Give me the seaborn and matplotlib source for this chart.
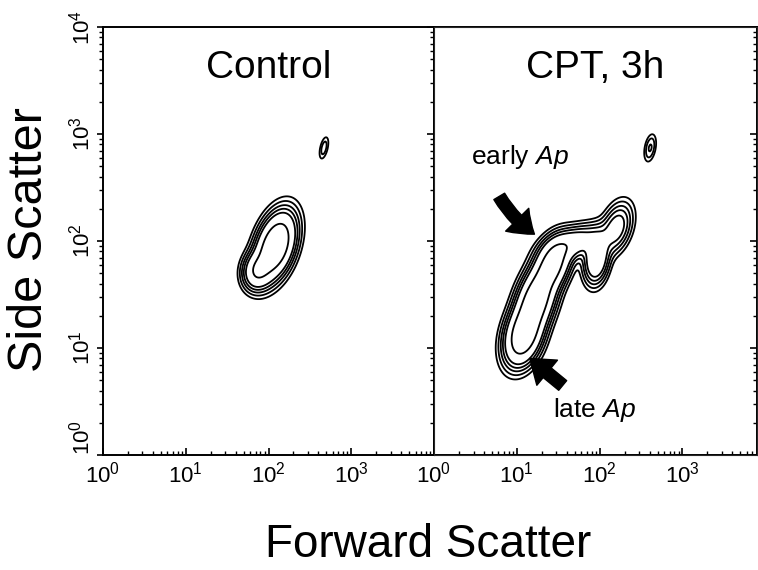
import numpy as np
import matplotlib
matplotlib.use("Agg")
import matplotlib.pyplot as plt
import seaborn as sns

# Gaussian populations in log10 (forward, side) scatter space
# Control sample
ctrl_cx = [2.08, 1.86, 2.67]
ctrl_cy = [1.95, 1.72, 2.87]
ctrl_smaj = [0.18, 0.10, 0.07]
ctrl_smin = [0.11, 0.09, 0.03]
ctrl_ang = [62, 50, 72]
ctrl_w = [1.0, 0.4, 0.06]

# CPT-treated sample, 3 h
cpt_cx = [1.08, 1.23, 1.43, 1.96, 2.20, 1.68, 2.61]
cpt_cy = [1.12, 1.45, 1.78, 1.84, 2.12, 1.98, 2.87]
cpt_smaj = [0.16, 0.18, 0.15, 0.13, 0.14, 0.20, 0.08]
cpt_smin = [0.11, 0.11, 0.10, 0.08, 0.09, 0.08, 0.04]
cpt_ang = [63, 63, 55, 80, 60, 15, 75]
cpt_w = [1.0, 1.0, 0.8, 0.5, 0.3, 0.35, 0.09]

contour_levels = [0.02, 0.04, 0.07, 0.11, 0.17, 0.45]

panel_titles = ["Control", "CPT, 3h"]
x_ticks = [1, 10, 100, 1000]
y_ticks = [1, 10, 100, 1000, 10000]
x_tick_labels = ["$10^{0}$", "$10^{1}$", "$10^{2}$", "$10^{3}$"]
y_tick_labels = ["$10^{0}$", "$10^{1}$", "$10^{2}$", "$10^{3}$", "$10^{4}$"]


def density(gx, gy, cx, cy, smaj, smin, ang, w):
    z = np.zeros_like(gx)
    for x0, y0, a, b, t, wt in zip(cx, cy, smaj, smin, ang, w):
        th = np.deg2rad(t)
        dx, dy = gx - x0, gy - y0
        u = dx * np.cos(th) + dy * np.sin(th)
        v = -dx * np.sin(th) + dy * np.cos(th)
        z += wt * np.exp(-0.5 * ((u / a) ** 2 + (v / b) ** 2))
    return z / z.max()


sns.set_style("ticks")
plt.rcParams["font.family"] = ["Liberation Sans", "DejaVu Sans"]
plt.rcParams["mathtext.fontset"] = "custom"
plt.rcParams["mathtext.rm"] = "Liberation Sans"
plt.rcParams["mathtext.it"] = "Liberation Sans:italic"
plt.rcParams["mathtext.default"] = "regular"
for key in ["text.color", "axes.labelcolor", "xtick.color", "ytick.color",
            "xtick.labelcolor", "ytick.labelcolor"]:
    plt.rcParams[key] = "black"

W, H = 758, 570
fig = plt.figure(figsize=(W / 100, H / 100), dpi=100)


def px_box(x0, x1, y0, y1):
    return [x0 / W, 1 - y1 / H, (x1 - x0) / W, (y1 - y0) / H]


ax1 = fig.add_axes(px_box(103, 434, 27, 455))
ax2 = fig.add_axes(px_box(434, 757, 27, 455))

gx, gy = np.meshgrid(np.linspace(0, 4, 400), np.linspace(0, 4, 400))
panels = [
    (ax1, density(gx, gy, ctrl_cx, ctrl_cy, ctrl_smaj, ctrl_smin, ctrl_ang, ctrl_w), 4.0),
    (ax2, density(gx, gy, cpt_cx, cpt_cy, cpt_smaj, cpt_smin, cpt_ang, cpt_w), 3.9),
]

for i, (ax, z, xmax) in enumerate(panels):
    ax.contour(10 ** gx, 10 ** gy, z, levels=contour_levels,
               colors="black", linewidths=1.3)
    ax.set_xscale("log")
    ax.set_yscale("log")
    ax.set_xlim(1, 10 ** xmax)
    ax.set_ylim(1, 1e4)
    ax.set_xticks(x_ticks, labels=x_tick_labels, fontsize=16)
    for s in ax.spines.values():
        s.set_visible(True)
        s.set_linewidth(1.4)
        s.set_color("black")
    ax.tick_params(axis="x", which="both", direction="in", top=False,
                   pad=5, color="black")
    ax.tick_params(axis="x", which="major", length=5, width=1.2)
    ax.tick_params(axis="x", which="minor", length=3, width=1.0)
    ax.text(0.5, 0.905, panel_titles[i], transform=ax.transAxes,
            ha="center", va="center", fontsize=28, color="black")

# Left panel: outward ticks and rotated decade labels
ax1.set_yticks(y_ticks, labels=y_tick_labels, fontsize=16,
               rotation=90, va="center")
ax1.get_yticklabels()[0].set_va("bottom")
ax1.tick_params(axis="y", which="both", left=True, right=False,
                direction="out", color="black", pad=2)
ax1.tick_params(axis="y", which="major", length=4, width=1.2)
ax1.tick_params(axis="y", which="minor", length=3, width=1.0)

# Divider between the panels: ticks pointing into the left panel
ax2.set_yticks(y_ticks)
ax2.tick_params(axis="y", which="both", left=True, right=False,
                labelleft=False, direction="out", color="black")
ax2.tick_params(axis="y", which="major", length=5, width=1.2)
ax2.tick_params(axis="y", which="minor", length=3, width=1.0)

# Right edge: ticks pointing inward
ax3 = ax2.twinx()
ax3.set_yscale("log")
ax3.set_ylim(1, 1e4)
ax3.set_yticks(y_ticks)
ax3.tick_params(axis="y", which="both", right=True, labelright=False,
                direction="in", color="black")
ax3.tick_params(axis="y", which="major", length=5, width=1.2)
ax3.tick_params(axis="y", which="minor", length=3, width=1.0)
ax3.grid(False)

# Annotations for apoptotic populations
arrow_kw = dict(arrowstyle="simple,head_length=0.9,head_width=1.3,tail_width=0.5",
                fc="black", ec="black", mutation_scale=18)
ax2.annotate("", xy=(17.4, 112), xytext=(5.9, 275),
             arrowprops=dict(connectionstyle="arc3,rad=0.12", **arrow_kw))
ax2.annotate("", xy=(13.5, 8.3), xytext=(38, 4.3),
             arrowprops=dict(connectionstyle="arc3,rad=0.0", **arrow_kw))
ax2.text(0.266, 0.696, "early $\\mathit{Ap}$", transform=ax2.transAxes,
         ha="center", va="center", fontsize=19, color="black")
ax2.text(0.498, 0.105, "late $\\mathit{Ap}$", transform=ax2.transAxes,
         ha="center", va="center", fontsize=19, color="black")

fig.text(30 / W, 1 - 240 / H, "Side Scatter", rotation=90,
         ha="center", va="center", fontsize=35, color="black")
fig.text(428 / W, 1 - 545 / H, "Forward Scatter",
         ha="center", va="center", fontsize=33, color="black")

fig.savefig("out.png", dpi=100)
